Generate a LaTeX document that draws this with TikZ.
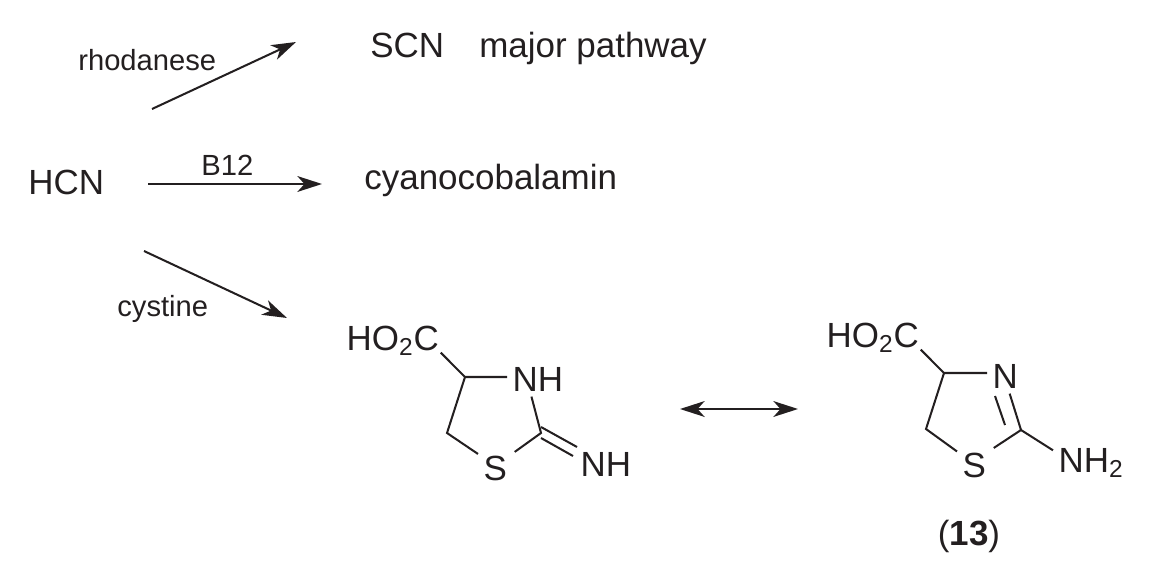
\documentclass[tikz,border=0pt]{standalone}
\usepackage{fontspec}
\setmainfont{Liberation Sans}
\usetikzlibrary{arrows.meta}
\definecolor{inkblack}{HTML}{231F20}
\begin{document}
\begin{tikzpicture}[x=0.02cm, y=-0.02cm, color=inkblack,
		>={Stealth[length=14pt, width=9pt, inset=4pt]},
		rxn/.style={line width=1.15pt},
		bond/.style={line width=1.15pt},
		big/.style={anchor=base west, inner sep=0pt, font=\fontsize{19.9}{23}\selectfont},
		small/.style={anchor=base west, inner sep=0pt, font=\fontsize{16.6}{19}\selectfont},
		atom/.style={anchor=base west, inner sep=3pt, font=\fontsize{19.9}{23}\selectfont}]
		\useasboundingbox (0,0) rectangle (1162,581);

		\node[big] (hcn) at (28,194) {HCN};
		\node[big] (scn) at (370,58) {SCN};
		\node[big] (pathway) at (479,58) {major pathway};
		\node[big] (cyano) at (364,189) {cyanocobalamin};
		\node[small] (rhod) at (78,71) {rhodanese};
		\node[small] (vitb) at (201,175) {B12};
		\node[small] (cyst) at (117,316) {cystine};

		\coordinate (rhodA) at (152,109);
		\coordinate (rhodB) at (296,42);
		\coordinate (vitbA) at (148,184);
		\coordinate (vitbB) at (322,184);
		\coordinate (cystA) at (144,251);
		\coordinate (cystB) at (287,318);
		\coordinate (resA) at (680,409);
		\coordinate (resB) at (798,409);
		\draw[->, rxn] (rhodA) -- (rhodB);
		\draw[->, rxn] (vitbA) -- (vitbB);
		\draw[->, rxn] (cystA) -- (cystB);
		\draw[<->, rxn] (resA) -- (resB);

		% imino form
		\node[atom] (acidA) at (341,350) {HO\textsubscript{2}C};
		\node[atom] (nhA) at (507,391) {NH};
		\node[atom] (sA) at (478,480) {S};
		\node[atom] (imA) at (575,476) {NH};
		\coordinate (c4A) at (465,377);
		\coordinate (c5A) at (447,433);
		\coordinate (c2A) at (541,433);
		\coordinate (imUpA) at (577,447);
		\coordinate (imLoA) at (573,456);
		\coordinate (c2UpA) at (541,427);
		\coordinate (c2LoA) at (541,438);
		\draw[bond, shorten <=-3pt] (acidA.-17) -- (c4A) -- (nhA.west |- c4A);
		\draw[bond] (c4A) -- (c5A) -- (sA.141);
		\draw[bond, shorten >=1.5pt] (nhA.250) -- (c2A) -- (sA.40);
		\draw[bond] (c2UpA) -- (imUpA);
		\draw[bond] (c2LoA) -- (imLoA);

		% amino form
		\node[atom] (acidB) at (821,347) {HO\textsubscript{2}C};
		\node[atom] (nB) at (987,388) {N};
		\node[atom] (sB) at (957,477) {S};
		\node[atom] (amB) at (1053,472) {NH\textsubscript{2}};
		\coordinate (c4B) at (944,373);
		\coordinate (c5B) at (926,429);
		\coordinate (c2B) at (1021,430);
		\coordinate (dblUpB) at (995,396);
		\coordinate (dblLoB) at (1005,425);
		\draw[bond, shorten <=-3pt] (acidB.-17) -- (c4B) -- (nB.west |- c4B);
		\draw[bond] (c4B) -- (c5B) -- (sB.142);
		\draw[bond, shorten >=1.5pt] (nB.-76) -- (c2B) -- (sB.42);
		\draw[bond] (dblUpB) -- (dblLoB);
		\draw[bond] (c2B) -- (amB.162);

		\node[big, anchor=base] (label) at (969,545) {(\textbf{13})};
\end{tikzpicture}
\end{document}
